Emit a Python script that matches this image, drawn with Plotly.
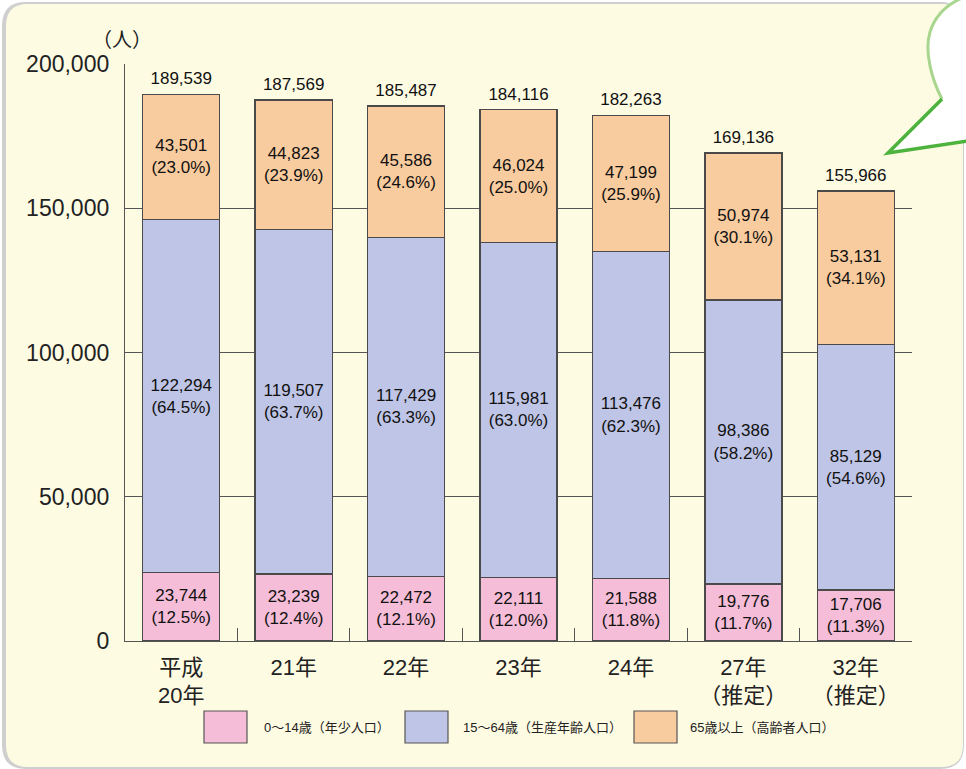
import plotly.graph_objects as go

# ---- data ----
categories = ["平成<br>20年", "21年", "22年", "23年", "24年", "27年<br>（推定）", "32年<br>（推定）"]
young = [23744, 23239, 22472, 22111, 21588, 19776, 17706]
working = [122294, 119507, 117429, 115981, 113476, 98386, 85129]
elderly = [43501, 44823, 45586, 46024, 47199, 50974, 53131]
totals = [189539, 187569, 185487, 184116, 182263, 169136, 155966]
pct_young = [12.5, 12.4, 12.1, 12.0, 11.8, 11.7, 11.3]
pct_working = [64.5, 63.7, 63.3, 63.0, 62.3, 58.2, 54.6]
pct_elderly = [23.0, 23.9, 24.6, 25.0, 25.9, 30.1, 34.1]
series_names = ["0～14歳（年少人口）", "15～64歳（生産年齢人口）", "65歳以上（高齢者人口）"]
y_ticks = [0, 50000, 100000, 150000, 200000]

# ---- style ----
W, H = 966, 769
ML, MR, MT, MB = 125, 54, 64, 128
PW, PH = W - ML - MR, H - MT - MB
FONT = "Liberation Sans, Arial, Noto Sans CJK JP, sans-serif"
C_PINK, C_BLUE, C_ORANGE = "#F5BDD7", "#BFC5E6", "#F9CC9F"
EDGE = "#4a4a4a"


def px(x):
    return (x - ML) / PW


def py(y):
    return (H - MB - y) / PH


def pt(x, y):
    return f"{px(x):.5f},{py(y):.5f}"


def lab(vals, pcts):
    return [f"{v:,}<br>({p:.1f}%)" for v, p in zip(vals, pcts)]


fig = go.Figure()
for vals, pcts, color, name in [
    (young, pct_young, C_PINK, series_names[0]),
    (working, pct_working, C_BLUE, series_names[1]),
    (elderly, pct_elderly, C_ORANGE, series_names[2]),
]:
    fig.add_trace(go.Bar(
        x=categories, y=vals, name=name,
        marker=dict(color=color, line=dict(color=EDGE, width=1.3)),
        text=lab(vals, pcts), textposition="inside", insidetextanchor="middle",
        textangle=0, constraintext="none",
        textfont=dict(size=17, color="#111", family=FONT),
        showlegend=False, hoverinfo="skip",
    ))

fig.add_trace(go.Scatter(
    x=categories, y=totals, mode="markers+text",
    marker=dict(size=8, color="rgba(0,0,0,0)"),
    text=[f"{t:,}" for t in totals], textposition="top center",
    textfont=dict(size=17, color="#111", family=FONT),
    showlegend=False, hoverinfo="skip", cliponaxis=False,
))

shapes = []


def rrect(x0, y0, x1, y1, r):
    return ("M " + pt(x0 + r, y0) + " L " + pt(x1 - r, y0) + " Q " + pt(x1, y0) + " " + pt(x1, y0 + r)
            + " L " + pt(x1, y1 - r) + " Q " + pt(x1, y1) + " " + pt(x1 - r, y1)
            + " L " + pt(x0 + r, y1) + " Q " + pt(x0, y1) + " " + pt(x0, y1 - r)
            + " L " + pt(x0, y0 + r) + " Q " + pt(x0, y0) + " " + pt(x0 + r, y0) + " Z")


# panel shadow and panel
shapes.append(dict(type="path", xref="paper", yref="paper", layer="below",
                   path=rrect(2, 2, 964, 769, 24), fillcolor="#cfcfcf", line=dict(width=0)))
shapes.append(dict(type="path", xref="paper", yref="paper", layer="below",
                   path=rrect(6, 4, 963, 767, 22), fillcolor="#FEFBE3", line=dict(width=0)))

# speech bubble (decorative)
curve = (" C " + pt(932, 80) + " " + pt(924, 52) + " " + pt(930, 32)
         + " C " + pt(935, 16) + " " + pt(946, 5) + " " + pt(962, -2))
bubble = "M " + pt(967, 141) + " L " + pt(888, 153) + " L " + pt(942, 99) + curve + " L " + pt(967, -2) + " Z"
shapes.append(dict(type="path", xref="paper", yref="paper", layer="below",
                   path=bubble, fillcolor="#ffffff", line=dict(width=0)))
shapes.append(dict(type="path", xref="paper", yref="paper", layer="below",
                   path="M " + pt(942, 99) + curve,
                   fillcolor="rgba(0,0,0,0)", line=dict(color="#A9D68F", width=3)))
shapes.append(dict(type="path", xref="paper", yref="paper", layer="below",
                   path="M " + pt(967, 141) + " L " + pt(888, 153) + " L " + pt(942, 99),
                   fillcolor="rgba(0,0,0,0)", line=dict(color="#4DB33D", width=3.5)))

# legend swatches
legend_items = [(204, 262, C_PINK), (405, 461, C_BLUE), (634, 688, C_ORANGE)]
annotations = []
for (sx, tx, col), name in zip(legend_items, series_names):
    shapes.append(dict(type="rect", xref="paper", yref="paper",
                       x0=px(sx), x1=px(sx + 43), y0=py(743), y1=py(711),
                       fillcolor=col, line=dict(color="#555", width=1.2)))
    annotations.append(dict(xref="paper", yref="paper", x=px(tx), y=py(727),
                            text=name, showarrow=False, xanchor="left", yanchor="middle",
                            font=dict(size=13, color="#222", family=FONT)))

annotations.append(dict(xref="paper", yref="paper", x=px(122), y=py(40), text="（人）",
                        showarrow=False, xanchor="center", yanchor="middle",
                        font=dict(size=20, color="#222", family=FONT)))

fig.update_layout(
    width=W, height=H,
    margin=dict(l=ML, r=MR, t=MT, b=MB, autoexpand=False),
    paper_bgcolor="#ffffff", plot_bgcolor="rgba(0,0,0,0)",
    barmode="stack", bargap=0.315,
    font=dict(family=FONT, color="#222"),
    shapes=shapes, annotations=annotations,
    xaxis=dict(
        type="category", showgrid=False, showline=True, linecolor="#555", linewidth=1.3,
        ticks="inside", ticklen=13, tickcolor="#555", tickwidth=1.3, tickson="boundaries",
        tickfont=dict(size=22, color="#222", family=FONT), ticklabelstandoff=6,
    ),
    yaxis=dict(
        range=[0, 200000], tickvals=y_ticks, tickformat=",",
        showgrid=True, gridcolor="#555", gridwidth=1.2,
        showline=True, linecolor="#555", linewidth=1.3, zeroline=False,
        ticks="", tickfont=dict(size=23, color="#222", family=FONT), ticklabelstandoff=10,
    ),
)

fig.write_html("out.html", config={"displayModeBar": False},
               post_script="document.body.style.margin='0px';document.body.style.overflow='hidden';")
